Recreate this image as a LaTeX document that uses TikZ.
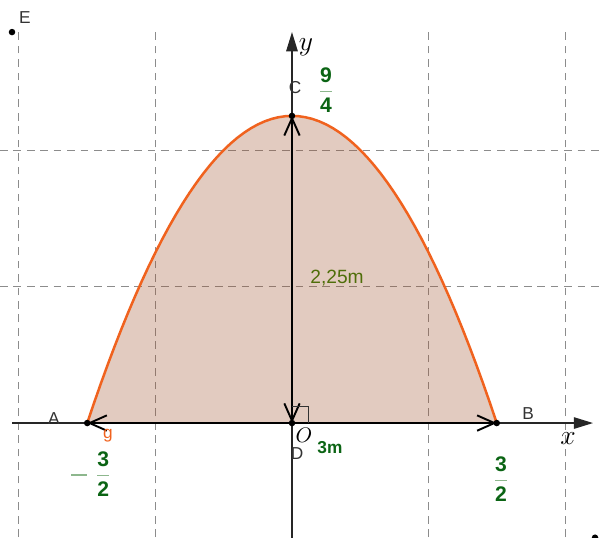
\documentclass[tikz,border=0pt]{standalone}
\usepackage{fontspec}
\setmainfont{Liberation Sans}
\usetikzlibrary{arrows.meta, calc}
\definecolor{ggorange}{HTML}{F0621E}
\definecolor{ggfill}{HTML}{A0522D}
\definecolor{gggreen}{HTML}{0B6414}
\definecolor{gglight}{HTML}{8DB78D}
\definecolor{ggolive}{HTML}{4F6E0A}
\definecolor{gggrid}{HTML}{8C8C8C}
\definecolor{gglabel}{HTML}{333333}
\newcommand{\gnum}[1]{\textcolor{gggreen}{\textbf{#1}}}
\newcommand{\gfrac}[2]{$\displaystyle\color{gglight}{\gnum{#1}\above 0.9pt\gnum{#2}}$}

\begin{document}
\begin{tikzpicture}[
  x=2.5cm, y=2.5cm,
  gridline/.style={gggrid, dash pattern=on 4pt off 3pt, line width=0.5pt},
  axisline/.style={-{Triangle[length=10pt,width=6pt]}, line width=0.6pt, black!85},
  vec/.style={-{Straight Barb[length=9pt,width=8pt]}, line width=1pt, black},
  dot/.style={circle, fill=black, inner sep=0pt, minimum size=3.4pt},
  ptlabel/.style={font=\fontsize{9}{11}\selectfont, text=gglabel, inner sep=0pt},
  frac/.style={font=\fontsize{11}{13}\selectfont, inner sep=0pt},
]
  \useasboundingbox (-2.139,-0.835) rectangle (2.271,3.099);

  % grid
  \foreach \gx in {-2,-1,1,2}
    \draw[gridline] (\gx,-0.835) -- (\gx,2.864);
  \foreach \gy in {1,2}
    \draw[gridline] (-2.139,\gy) -- (2.271,\gy);

  % parabola g
  \fill[ggfill, fill opacity=0.3] plot[domain=-1.5:1.5, samples=61] (\x,{2.25-\x*\x}) -- cycle;
  \draw[ggorange, line width=1.3pt] plot[domain=-1.5:1.5, samples=61] (\x,{2.25-\x*\x});

  % axes
  \coordinate (xs) at (-2.051,0);
  \coordinate (xe) at (2.205,0);
  \coordinate (ys) at (0,-0.9);
  \coordinate (ye) at (0,2.864);
  \draw[axisline] (xs) -- (xe);
  \draw[axisline] (ys) -- (ye);

  % points
  \node[dot] (O) at (0,0) {};
  \node[dot] (A) at (-1.5,0) {};
  \node[dot] (B) at (1.5,0) {};
  \node[dot] (C) at (0,2.25) {};
  \node[dot] (E) at (-2.051,2.864) {};
  \node[dot] (F) at (2.22,-0.84) {};

  % vectors
  \draw[vec] (O.center) -- (A.center);
  \draw[vec] (O.center) -- (B.center);
  \draw[vec] (O.center) -- (C.center);
  \draw[vec] (C.center) -- (O.center);

  % right angle
  \draw[line width=0.4pt, black!80] ($(O)+(0.12,0)$) -- ++(0,0.12) -- ++(-0.12,0);

  % labels
  \node[ptlabel] (lE) at (-1.956,2.967) {E};
  \node[ptlabel] (lA) at (-1.744,0.03) {A};
  \node[ptlabel] (lB) at (1.729,0.066) {B};
  \node[ptlabel] (lC) at (0.022,2.454) {C};
  \node[ptlabel] (lD) at (0.037,-0.22) {D};
  \node[ptlabel, text=ggorange] (lg) at (-1.348,-0.095) {g};
  \node[font=\fontsize{11}{13}\selectfont, inner sep=0pt] (lO) at (0.088,-0.088) {$O$};
  \node[font=\fontsize{14}{16}\selectfont, inner sep=0pt] (lx) at (2.022,-0.117) {$x$};
  \node[font=\fontsize{14}{16}\selectfont, inner sep=0pt] (ly) at (0.103,2.755) {$y$};

  \node[frac] (f94) at (0.249,2.44) {\gfrac{9}{4}};
  \node[frac] (fm32) at (-1.47,-0.374) {{\color{gglight}\rule[2.6pt]{8pt}{0.9pt}}\hspace{4.5pt}\gfrac{3}{2}};
  \node[frac] (f32) at (1.531,-0.41) {\gfrac{3}{2}};

  \node[font=\fontsize{9}{11}\selectfont\bfseries, text=gggreen, inner sep=0pt] (l3m) at (0.278,-0.183) {3m};
  \node[font=\fontsize{10}{12}\selectfont, text=ggolive, inner sep=0pt] (l225) at (0.33,1.062) {2,25m};
\end{tikzpicture}
\end{document}
